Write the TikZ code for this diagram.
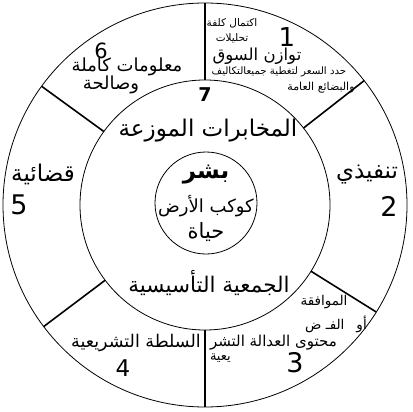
\documentclass[tikz,border=0pt]{standalone}
\usepackage{fontspec}
\setmainfont{DejaVu Sans}
\newfontfamily\arfont[Script=Arabic]{DejaVu Sans}
\TeXXeTstate=1
\usetikzlibrary{calc}
\newcommand\fsz[1]{\fontsize{#1}{#1}\selectfont}
\tikzset{
  ring/.style={draw=black, line width=0.8pt},
  divider/.style={draw=black, line width=1.6pt},
  lbl/.style={inner sep=0pt, outer sep=0pt, text=black, font=\arfont},
}
\begin{document}
\begin{tikzpicture}[x=1pt, y=-1pt]
\useasboundingbox (0,0) rectangle (412,412);
\coordinate (c) at (205,205);
\coordinate (ci) at (206,203);
% circles
\draw[ring] (c) circle [radius=202];
\draw[ring] (c) circle [radius=125];
\node[ring, circle, minimum size=102pt, inner sep=0pt] (core) at (ci) {};
% dividers
\foreach \a [count=\i] in {-90,-38,32,90,143,-144}{
  \coordinate (din\i) at ($(c)+(\a:125)$);
  \coordinate (dout\i) at ($(c)+(\a:202)$);
  \draw[divider] (din\i) -- (dout\i);
}
% centre
\node[lbl] (bashar) at (206,175) {\fsz{23}\bfseries\beginR بشر\endR};
\node[lbl] (kawkab) at (206,206) {\fsz{18}\beginR كوكب الأرض\endR};
\node[lbl] (hayat) at (206,232) {\fsz{21}\beginR حياة\endR};
% middle ring
\node[lbl] (seven) at (205,95) {\fsz{19}\bfseries 7};
\node[lbl] (mukh) at (208,131) {\fsz{23}\beginR المخابرات الموزعة\endR};
\node[lbl] (jamia) at (209,283) {\fsz{21.5}\beginR الجمعية التأسيسية\endR};
% sector 1
\node[lbl] (s1a) at (232,23) {\fsz{10.5}\beginR اكتمال كلفة\endR};
\node[lbl] (s1b) at (232,38) {\fsz{10.5}\beginR تحليلات\endR};
\node[lbl] (s1n) at (287,37) {\fsz{26}1};
\node[lbl] (s1c) at (257,56) {\fsz{16.5}\beginR توازن السوق\endR};
\node[lbl] (s1d) at (279,72) {\fsz{10.2}\beginR حدد السعر لتغطية جميعالتكاليف\endR};
\node[lbl] (s1e) at (321,88) {\fsz{11}\beginR والبضائع العامة\endR};
% sector 2
\node[lbl] (s2a) at (367,175) {\fsz{23}\beginR تنفيذي\endR};
\node[lbl] (s2n) at (389,206) {\fsz{27}2};
% sector 3
\node[lbl] (s3a) at (324,302) {\fsz{13.5}\beginR الموافقة\endR};
\node[lbl] (s3b) at (336,324) {\fsz{13.5}\beginR أو\hspace{12pt}الفـ ض\endR};
\node[lbl, anchor=west] (s3c) at (210,343) {\fsz{15}\beginR محتوى العدالة التشر\endR};
\node[lbl, anchor=west] (s3d) at (210,358) {\fsz{13}\beginR يعية\endR};
\node[lbl] (s3n) at (295,363) {\fsz{27}3};
% sector 4
\node[lbl] (s4a) at (136,343) {\fsz{17.5}\beginR السلطة التشريعية\endR};
\node[lbl] (s4n) at (123,368) {\fsz{23}4};
% sector 5
\node[lbl] (s5a) at (43,174) {\fsz{23}\beginR قضائية\endR};
\node[lbl] (s5n) at (19,205) {\fsz{27}5};
% sector 6
\node[lbl] (s6n) at (101,51) {\fsz{21}6};
\node[lbl] (s6a) at (127,67) {\fsz{18}\beginR معلومات كاملة\endR};
\node[lbl] (s6b) at (111,85) {\fsz{18}\beginR وصالحة\endR};
\end{tikzpicture}
\end{document}
